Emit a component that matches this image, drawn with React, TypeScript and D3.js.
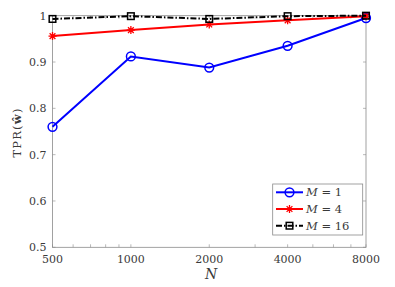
import React, { useEffect, useRef } from 'react';
import * as d3 from 'd3';

const nValues = [500, 1000, 2000, 4000, 8000];
const m1 = [0.76, 0.912, 0.888, 0.935, 0.995];
const m4 = [0.956, 0.969, 0.981, 0.99, 0.999];
const m16 = [0.993, 0.999, 0.993, 0.999, 1.0];
const yTicks = [0.5, 0.6, 0.7, 0.8, 0.9, 1];
const minorX = [600, 700, 800, 900, 3000, 5000, 6000, 7000];

const series = [
  { name: '1', values: m1, color: '#0000ff', dash: null, marker: 'circle' },
  { name: '4', values: m4, color: '#ff0000', dash: null, marker: 'star' },
  { name: '16', values: m16, color: '#000000', dash: '6,2,1.5,2', marker: 'square' },
];

const FONT = '"DejaVu Serif", "Liberation Serif", serif';

const App = () => {
  const ref = useRef<SVGSVGElement>(null);

  useEffect(() => {
    const svg = d3.select(ref.current);
    svg.selectAll('*').remove();

    const left = 52.5, right = 366, top = 15.7, bottom = 247.3;
    const x = d3.scaleLog().domain([500, 8000]).range([left, right]);
    const y = d3.scaleLinear().domain([0.5, 1]).range([bottom, top]);
    const axisColor = '#8a8a8a';
    const textColor = '#3a3a3a';
    const tl = 3;

    svg.append('rect').attr('width', 395).attr('height', 287).attr('fill', '#fff');

    const g = svg.append('g');
    // ticks
    [...nValues, ...minorX].forEach(v => {
      g.append('line').attr('x1', x(v)).attr('x2', x(v)).attr('y1', bottom).attr('y2', bottom - tl)
        .attr('stroke', axisColor).attr('stroke-width', 0.6);
      g.append('line').attr('x1', x(v)).attr('x2', x(v)).attr('y1', top).attr('y2', top + tl)
        .attr('stroke', axisColor).attr('stroke-width', 0.6);
    });
    yTicks.forEach(v => {
      g.append('line').attr('x1', left).attr('x2', left + tl).attr('y1', y(v)).attr('y2', y(v))
        .attr('stroke', axisColor).attr('stroke-width', 0.6);
      g.append('line').attr('x1', right).attr('x2', right - tl).attr('y1', y(v)).attr('y2', y(v))
        .attr('stroke', axisColor).attr('stroke-width', 0.6);
    });
    g.append('rect').attr('x', left).attr('y', top).attr('width', right - left).attr('height', bottom - top)
      .attr('fill', 'none').attr('stroke', axisColor).attr('stroke-width', 0.8);

    // tick labels
    nValues.forEach(v => {
      g.append('text').attr('x', x(v)).attr('y', bottom + 16).attr('text-anchor', 'middle')
        .attr('font-family', FONT).attr('font-size', 11).attr('fill', textColor).text(v);
    });
    yTicks.forEach(v => {
      g.append('text').attr('x', left - 6).attr('y', y(v) + 4).attr('text-anchor', 'end')
        .attr('font-family', FONT).attr('font-size', 11).attr('fill', textColor).text(v === 1 ? '1' : d3.format('.1f')(v));
    });

    // axis labels
    g.append('text').attr('x', 211).attr('y', 279).attr('text-anchor', 'middle')
      .attr('font-family', FONT).attr('font-size', 14).attr('font-style', 'italic').attr('fill', textColor).text('N');
    const yl = g.append('text').attr('transform', `translate(20.5,132.5) rotate(-90)`)
      .attr('text-anchor', 'middle').attr('font-family', FONT).attr('font-size', 11.5)
      .attr('letter-spacing', 1.2).attr('fill', textColor);
    yl.append('tspan').text('TPR(');
    yl.append('tspan').attr('font-weight', 'bold').text('\u0175');
    yl.append('tspan').text(')');

    const drawMarker = (sel: any, type: string, cx: number, cy: number, color: string) => {
      if (type === 'circle') {
        sel.append('circle').attr('cx', cx).attr('cy', cy).attr('r', 4.4)
          .attr('fill', 'none').attr('stroke', color).attr('stroke-width', 1.5);
      } else if (type === 'square') {
        sel.append('rect').attr('x', cx - 3.3).attr('y', cy - 3.3).attr('width', 6.6).attr('height', 6.6)
          .attr('fill', 'none').attr('stroke', color).attr('stroke-width', 1.5);
      } else {
        const r = 4;
        const p = d3.path();
        p.moveTo(cx - r, cy); p.lineTo(cx + r, cy);
        p.moveTo(cx, cy - r); p.lineTo(cx, cy + r);
        const d = r * 0.72;
        p.moveTo(cx - d, cy - d); p.lineTo(cx + d, cy + d);
        p.moveTo(cx - d, cy + d); p.lineTo(cx + d, cy - d);
        sel.append('path').attr('d', p.toString()).attr('stroke', color).attr('stroke-width', 1.3).attr('fill', 'none');
      }
    };

    const line = d3.line<number>().x((_, i) => x(nValues[i])).y(d => y(d));
    series.forEach(s => {
      const lg = svg.append('g');
      lg.append('path').attr('d', line(s.values)).attr('fill', 'none').attr('stroke', s.color)
        .attr('stroke-width', 2).attr('stroke-dasharray', s.dash);
      s.values.forEach((v, i) => drawMarker(lg, s.marker, x(nValues[i]), y(v), s.color));
    });

    // legend
    const lx = 272.7, ly = 184, lw = 90, lh = 51;
    const leg = svg.append('g');
    leg.append('rect').attr('x', lx).attr('y', ly).attr('width', lw).attr('height', lh)
      .attr('fill', '#fff').attr('stroke', axisColor).attr('stroke-width', 0.8);
    series.forEach((s, i) => {
      const yy = 192.3 + i * 16.7;
      leg.append('line').attr('x1', 276).attr('x2', 303).attr('y1', yy).attr('y2', yy)
        .attr('stroke', s.color).attr('stroke-width', 2).attr('stroke-dasharray', s.dash);
      drawMarker(leg, s.marker, 289.5, yy, s.color);
      const t = leg.append('text').attr('x', 306).attr('y', yy + 4).attr('font-family', FONT)
        .attr('font-size', 11.5).attr('fill', textColor);
      t.append('tspan').attr('font-style', 'italic').text('M');
      t.append('tspan').text(` = ${s.name}`);
    });
  }, []);

  return (
    <svg ref={ref} width={395} height={287}
      style={{ position: 'absolute', left: 0, top: 0, display: 'block' }} />
  );
};

export default App;
